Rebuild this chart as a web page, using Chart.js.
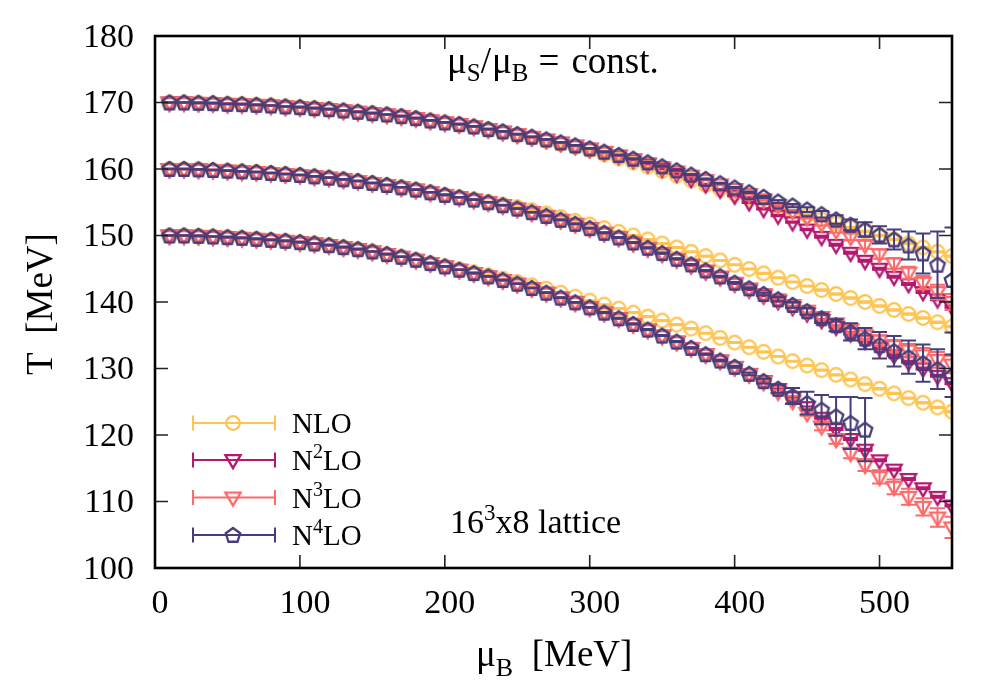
<!DOCTYPE html>
<html><head><meta charset="utf-8">
<script src="https://cdn.jsdelivr.net/npm/chart.js@4.4.0/dist/chart.umd.min.js"></script>
<style>html,body{margin:0;padding:0;background:#fff;}canvas{display:block;}</style>
</head><body>
<canvas id="c" width="997" height="697"></canvas>
<script>
// ---------- data ----------
const muB = [10,20,30,40,50,60,70,80,90,100,110,120,130,140,150,160,170,180,190,200,210,220,230,240,250,260,270,280,290,300,310,320,330,340,350,360,370,380,390,400,410,420,430,440,450,460,470,480,490,500,510,520,530,540,550];

// T0 = 170 MeV family
const nloT170 = [170.0,170.0,169.95,169.9,169.8,169.75,169.65,169.55,169.4,169.3,169.15,169.0,168.8,168.6,168.4,168.2,167.95,167.65,167.3,167.0,166.7,166.35,165.95,165.55,165.1,164.65,164.2,163.75,163.3,162.8,162.2,161.6,161.0,160.35,159.7,159.0,158.3,157.6,156.9,156.25,155.6,154.95,154.3,153.65,153.0,152.4,151.8,151.2,150.6,150.0,149.4,148.8,148.2,147.55,146.9];
const n2loT170 = [170.0,170.0,169.95,169.9,169.8,169.75,169.65,169.55,169.4,169.3,169.15,169.0,168.8,168.6,168.4,168.2,167.95,167.65,167.3,167.0,166.75,166.4,166.0,165.6,165.2,164.8,164.4,163.95,163.5,163.05,162.55,162.0,161.4,160.75,160.05,159.3,158.5,157.7,156.9,156.0,155.0,154.0,153.0,152.0,150.9,149.8,148.6,147.4,146.2,145.0,143.8,142.7,141.5,140.4,139.3];
const n3loT170 = [170.0,170.0,169.95,169.9,169.8,169.75,169.65,169.55,169.4,169.3,169.15,169.0,168.8,168.6,168.4,168.2,167.95,167.65,167.3,167.0,166.75,166.4,166.0,165.65,165.25,164.85,164.45,164.0,163.55,163.1,162.6,162.05,161.5,160.9,160.3,159.65,159.0,158.35,157.7,157.0,156.25,155.45,154.6,153.7,152.75,151.8,150.8,149.8,148.6,147.2,145.8,144.4,142.9,141.5,140.0];
const n4loT170 = [170.0,170.0,169.95,169.9,169.8,169.75,169.65,169.55,169.4,169.3,169.15,169.0,168.8,168.6,168.4,168.2,167.95,167.65,167.3,167.0,166.75,166.4,166.0,165.65,165.25,164.85,164.45,164.0,163.55,163.1,162.6,162.1,161.55,161.0,160.4,159.8,159.15,158.5,157.85,157.2,156.5,155.8,155.1,154.5,153.9,153.2,152.4,151.6,150.9,150.1,149.4,148.5,147.3,145.6,143.3];

// T0 = 160 MeV family
const nloT160 = [160.0,160.0,159.95,159.85,159.75,159.65,159.55,159.4,159.25,159.1,158.9,158.7,158.45,158.2,157.9,157.6,157.25,156.9,156.5,156.1,155.75,155.4,155.05,154.65,154.25,153.8,153.3,152.75,152.2,151.65,151.1,150.55,150.0,149.4,148.8,148.2,147.55,146.9,146.25,145.6,144.95,144.3,143.65,143.0,142.4,141.8,141.2,140.6,140.0,139.4,138.8,138.2,137.6,136.95,136.3];
const n2loT160 = [160.0,160.0,159.95,159.85,159.75,159.65,159.55,159.4,159.25,159.1,158.9,158.7,158.45,158.2,157.9,157.6,157.25,156.9,156.5,156.1,155.75,155.4,155.0,154.55,154.05,153.5,152.95,152.35,151.75,151.1,150.4,149.7,148.9,148.1,147.3,146.45,145.55,144.65,143.75,142.8,141.9,141.0,140.15,139.25,138.3,137.3,136.3,135.3,134.2,133.1,132.0,131.0,130.0,128.9,127.8];
const n3loT160 = [160.0,160.0,159.95,159.85,159.75,159.65,159.55,159.4,159.25,159.1,158.9,158.7,158.45,158.2,157.9,157.6,157.25,156.9,156.5,156.1,155.75,155.4,155.0,154.55,154.05,153.5,152.95,152.35,151.75,151.1,150.4,149.7,148.95,148.15,147.35,146.5,145.65,144.75,143.85,142.9,142.05,141.2,140.4,139.55,138.7,137.75,136.8,135.9,135.0,134.2,133.4,132.7,132.0,131.3,130.6];
const n4loT160 = [160.0,160.0,159.95,159.85,159.75,159.65,159.55,159.4,159.25,159.1,158.9,158.7,158.45,158.2,157.9,157.6,157.25,156.9,156.5,156.1,155.75,155.4,155.0,154.55,154.05,153.5,152.95,152.35,151.75,151.1,150.4,149.7,148.95,148.15,147.35,146.5,145.65,144.75,143.85,142.9,142.05,141.2,140.4,139.55,138.6,137.55,136.5,135.5,134.5,133.5,132.6,131.7,130.8,129.9,128.9];

// T0 = 150 MeV family
const nloT150 = [150.0,150.0,149.95,149.85,149.75,149.65,149.5,149.35,149.2,149.0,148.8,148.55,148.25,147.95,147.6,147.2,146.8,146.35,145.85,145.35,144.9,144.45,144.0,143.5,143.0,142.5,142.0,141.4,140.8,140.2,139.6,139.0,138.4,137.8,137.2,136.6,136.0,135.3,134.6,133.9,133.2,132.5,131.8,131.1,130.45,129.75,129.05,128.35,127.65,126.95,126.25,125.55,124.85,124.15,123.5];
const n2loT150 = [150.0,150.0,149.95,149.85,149.75,149.65,149.5,149.35,149.2,149.0,148.8,148.55,148.25,147.95,147.6,147.2,146.8,146.35,145.85,145.35,144.85,144.35,143.85,143.3,142.75,142.1,141.4,140.65,139.95,139.2,138.4,137.55,136.7,135.85,134.95,134.05,133.1,132.15,131.2,130.25,129.2,128.1,126.9,125.7,124.2,122.6,120.9,119.4,117.8,116.2,114.8,113.4,112.0,110.7,109.4];
const n3loT150 = [150.0,150.0,149.95,149.85,149.75,149.65,149.5,149.35,149.2,149.0,148.8,148.55,148.25,147.95,147.6,147.2,146.8,146.35,145.85,145.35,144.85,144.35,143.85,143.3,142.75,142.1,141.4,140.65,139.95,139.2,138.4,137.55,136.7,135.85,134.95,134.05,133.1,132.15,131.2,130.2,129.15,128.0,126.5,125.1,123.3,121.3,119.4,117.3,115.5,113.7,112.2,110.7,109.2,107.6,106.1];
const n4loT150 = [150.0,150.0,149.95,149.85,149.75,149.65,149.5,149.35,149.2,149.0,148.8,148.55,148.25,147.95,147.6,147.2,146.8,146.35,145.85,145.35,144.85,144.35,143.85,143.3,142.75,142.1,141.4,140.65,139.95,139.2,138.4,137.55,136.7,135.85,134.95,134.05,133.1,132.15,131.2,130.25,129.2,128.1,126.95,125.85,124.8,123.8,122.8,121.8,120.8];

// error bars (MeV)
const nloErr = [0.05,0.05,0.05,0.05,0.05,0.05,0.05,0.05,0.05,0.05,0.05,0.05,0.05,0.05,0.05,0.05,0.05,0.05,0.05,0.05,0.05,0.05,0.05,0.05,0.05,0.05,0.05,0.05,0.05,0.05,0.08,0.08,0.08,0.08,0.08,0.08,0.08,0.08,0.08,0.08,0.08,0.08,0.08,0.08,0.08,0.1,0.1,0.1,0.1,0.1,0.1,0.1,0.1,0.1,0.1];
const n2loErr = [0.05,0.05,0.05,0.05,0.05,0.05,0.05,0.05,0.05,0.05,0.05,0.05,0.05,0.05,0.05,0.05,0.05,0.05,0.05,0.05,0.05,0.05,0.05,0.05,0.05,0.05,0.05,0.05,0.05,0.05,0.05,0.05,0.05,0.05,0.05,0.1,0.1,0.1,0.1,0.1,0.1,0.1,0.1,0.1,0.1,0.15,0.15,0.15,0.15,0.15,0.15,0.15,0.15,0.15,0.15];
const n3loErr170 = [0.05,0.05,0.05,0.05,0.05,0.05,0.05,0.05,0.05,0.05,0.05,0.05,0.05,0.05,0.05,0.05,0.05,0.05,0.05,0.05,0.05,0.05,0.05,0.05,0.05,0.05,0.05,0.05,0.05,0.05,0.05,0.05,0.05,0.05,0.05,0.05,0.05,0.05,0.05,0.05,0.1,0.1,0.15,0.15,0.2,0.3,0.4,0.5,0.6,0.7,0.8,0.9,1.0,1.1,1.2];
const n3loErr160 = [0.05,0.05,0.05,0.05,0.05,0.05,0.05,0.05,0.05,0.05,0.05,0.05,0.05,0.05,0.05,0.05,0.05,0.05,0.05,0.05,0.05,0.05,0.05,0.05,0.05,0.05,0.05,0.05,0.05,0.05,0.05,0.05,0.05,0.05,0.05,0.05,0.05,0.05,0.05,0.05,0.1,0.15,0.2,0.25,0.3,0.4,0.5,0.6,0.7,0.8,0.9,1.0,1.1,1.2,1.3];
const n3loErr150 = [0.05,0.05,0.05,0.05,0.05,0.05,0.05,0.05,0.05,0.05,0.05,0.05,0.05,0.05,0.05,0.05,0.05,0.05,0.05,0.05,0.05,0.05,0.05,0.05,0.05,0.05,0.05,0.05,0.05,0.05,0.05,0.05,0.05,0.05,0.05,0.05,0.05,0.05,0.1,0.1,0.15,0.2,0.25,0.3,0.4,0.6,0.7,0.8,0.9,1.0,1.1,1.2,1.3,1.4,1.6];
const n4loErr170 = [0.05,0.05,0.05,0.05,0.05,0.05,0.05,0.05,0.05,0.05,0.05,0.05,0.05,0.05,0.05,0.05,0.05,0.05,0.05,0.05,0.05,0.05,0.05,0.05,0.05,0.05,0.05,0.05,0.05,0.05,0.08,0.08,0.08,0.08,0.08,0.08,0.08,0.08,0.08,0.08,0.1,0.15,0.2,0.25,0.35,0.5,0.65,0.8,1.1,1.3,1.5,2.1,3.0,5.0,7.9];
const n4loErr160 = [0.05,0.05,0.05,0.05,0.05,0.05,0.05,0.05,0.05,0.05,0.05,0.05,0.05,0.05,0.05,0.05,0.05,0.05,0.05,0.05,0.05,0.05,0.05,0.05,0.05,0.05,0.05,0.05,0.05,0.05,0.08,0.08,0.08,0.08,0.08,0.08,0.08,0.08,0.1,0.12,0.15,0.2,0.3,0.4,0.5,0.7,0.9,1.3,1.6,2.0,2.3,2.5,2.8,3.0,3.2];
const n4loErr150 = [0.05,0.05,0.05,0.05,0.05,0.05,0.05,0.05,0.05,0.05,0.05,0.05,0.05,0.05,0.05,0.05,0.05,0.05,0.05,0.05,0.05,0.05,0.05,0.05,0.05,0.05,0.05,0.05,0.05,0.05,0.08,0.08,0.08,0.08,0.08,0.08,0.08,0.08,0.1,0.15,0.2,0.35,0.6,1.2,1.7,2.2,2.9,3.9,4.75];

const seriesLabels = ['NLO', 'N2LO', 'N3LO', 'N4LO'];
const xTicks = [0, 100, 200, 300, 400, 500];
const yTicks = [100, 110, 120, 130, 140, 150, 160, 170, 180];

// ---------- styling ----------
const COLORS = ['#fdc452', '#b3196f', '#fb6a6a', '#473d7a'];
const SERIF = '"Liberation Serif", "Times New Roman", serif';

function marker(kind, color) {
  const s = 24, c = document.createElement('canvas');
  c.width = s; c.height = s;
  const g = c.getContext('2d');
  g.strokeStyle = color; g.lineWidth = 2.3; g.lineJoin = 'miter';
  const cx = s / 2, cy = s / 2;
  g.beginPath();
  if (kind === 'circle') {
    g.arc(cx, cy, 6.8, 0, Math.PI * 2);
  } else if (kind === 'tri') {
    g.moveTo(cx - 7.6, cy - 4.8); g.lineTo(cx + 7.6, cy - 4.8); g.lineTo(cx, cy + 8.2); g.closePath();
  } else {
    const r = 7.6;
    for (let k = 0; k < 5; k++) {
      const a = -Math.PI / 2 + k * 2 * Math.PI / 5;
      const px = cx + r * Math.cos(a), py = cy + 0.6 + r * Math.sin(a);
      k ? g.lineTo(px, py) : g.moveTo(px, py);
    }
    g.closePath();
  }
  g.stroke();
  return c;
}
const MARKERS = [marker('circle', COLORS[0]), marker('tri', COLORS[1]), marker('tri', COLORS[2]), marker('pent', COLORS[3])];

function pts(T, E) { return T.map((v, i) => ({ x: muB[i], y: v, e: E[i] })); }

const families = [
  [pts(nloT170, nloErr), pts(nloT160, nloErr), pts(nloT150, nloErr)],
  [pts(n2loT170, n2loErr), pts(n2loT160, n2loErr), pts(n2loT150, n2loErr)],
  [pts(n3loT170, n3loErr170), pts(n3loT160, n3loErr160), pts(n3loT150, n3loErr150)],
  [pts(n4loT170, n4loErr170), pts(n4loT160, n4loErr160), pts(n4loT150, n4loErr150)]
];

const datasets = seriesLabels.map((lab, i) => ({
  label: lab,
  data: [].concat(...families[i]),
  showLine: false,
  pointStyle: MARKERS[i],
  pointRadius: 8,
  pointHoverRadius: 8,
  borderColor: COLORS[i],
  backgroundColor: 'rgba(0,0,0,0)',
  order: 4 - i
}));

// rich text helper: parts = [text, fontSize, dy, extraGapAfter]
function rich(ctx, x, y, parts) {
  for (const [t, size, dy, gap] of parts) {
    ctx.font = size + 'px ' + SERIF;
    ctx.fillText(t, x, y + dy);
    x += ctx.measureText(t).width + (gap || 0);
  }
  return x;
}
function richWidth(ctx, parts) {
  let w = 0;
  for (const [t, size, dy, gap] of parts) { ctx.font = size + 'px ' + SERIF; w += ctx.measureText(t).width + (gap || 0); }
  return w;
}

const errPlugin = {
  id: 'errbars',
  beforeDatasetDraw(chart, args) {
    const ds = chart.data.datasets[args.index];
    const { ctx, chartArea: a } = chart;
    const xs = chart.scales.x, ys = chart.scales.y;
    ctx.save();
    ctx.beginPath(); ctx.rect(a.left, a.top, a.right - a.left, a.bottom - a.top); ctx.clip();
    ctx.strokeStyle = ds.borderColor; ctx.lineWidth = 2;
    ctx.beginPath();
    for (const p of ds.data) {
      const px = xs.getPixelForValue(p.x);
      const y1 = ys.getPixelForValue(p.y - p.e), y2 = ys.getPixelForValue(p.y + p.e);
      ctx.moveTo(px, y1); ctx.lineTo(px, y2);
      ctx.moveTo(px - 7.5, y1); ctx.lineTo(px + 7.5, y1);
      ctx.moveTo(px - 7.5, y2); ctx.lineTo(px + 7.5, y2);
    }
    ctx.stroke();
    ctx.restore();
  }
};

const decoPlugin = {
  id: 'deco',
  afterDraw(chart) {
    const { ctx, chartArea: a } = chart;
    const xs = chart.scales.x, ys = chart.scales.y;
    ctx.save();
    // inward ticks on all four sides
    ctx.strokeStyle = '#222'; ctx.lineWidth = 1.6;
    ctx.beginPath();
    for (const v of xTicks) {
      const px = xs.getPixelForValue(v);
      ctx.moveTo(px, a.bottom); ctx.lineTo(px, a.bottom - 13);
      ctx.moveTo(px, a.top); ctx.lineTo(px, a.top + 13);
    }
    for (const v of yTicks) {
      const py = ys.getPixelForValue(v);
      ctx.moveTo(a.left, py); ctx.lineTo(a.left + 13, py);
      ctx.moveTo(a.right, py); ctx.lineTo(a.right - 13, py);
    }
    ctx.stroke();
    // frame
    ctx.strokeStyle = '#000'; ctx.lineWidth = 2.6;
    ctx.strokeRect(a.left, a.top, a.right - a.left, a.bottom - a.top);

    ctx.fillStyle = '#000'; ctx.textBaseline = 'alphabetic'; ctx.textAlign = 'left';
    // top annotation
    rich(ctx, 447, 73, [['μ', 37, 0], ['S', 25, 8], ['/', 37, 0, 1], ['μ', 37, 0], ['B', 25, 8, 10], ['=', 37, 0, 12], ['const.', 37, 0]]);
    // lattice annotation
    rich(ctx, 450, 533, [['16', 34, 0], ['3', 23, -13], ['x8 lattice', 34, 0]]);
    // x-axis title
    rich(ctx, 476, 666, [['μ', 37, 0], ['B', 26, 10], ['  [MeV]', 37, 0]]);
    // y-axis title
    ctx.save();
    ctx.translate(52, 304); ctx.rotate(-Math.PI / 2);
    const yt = [['T  [MeV]', 37, 0]];
    rich(ctx, -richWidth(ctx, yt) / 2, 0, yt);
    ctx.restore();

    // legend
    const rows = [423, 460, 497.5, 535];
    const labels = [
      [['NLO', 29, 0]],
      [['N', 29, 0], ['2', 20, -12], ['LO', 29, 0]],
      [['N', 29, 0], ['3', 20, -12], ['LO', 29, 0]],
      [['N', 29, 0], ['4', 20, -12], ['LO', 29, 0]]
    ];
    rows.forEach((ry, i) => {
      ctx.strokeStyle = COLORS[i]; ctx.lineWidth = 2;
      ctx.beginPath();
      ctx.moveTo(193, ry); ctx.lineTo(275, ry);
      ctx.moveTo(193, ry - 7.5); ctx.lineTo(193, ry + 7.5);
      ctx.moveTo(275, ry - 7.5); ctx.lineTo(275, ry + 7.5);
      ctx.stroke();
      const m = MARKERS[i];
      ctx.drawImage(m, 233 - m.width / 2, ry - m.height / 2);
      ctx.fillStyle = '#000';
      rich(ctx, 292, ry + 10, labels[i]);
    });
    ctx.restore();
  }
};

new Chart(document.getElementById('c'), {
  type: 'scatter',
  data: { datasets },
  options: {
    responsive: false,
    animation: false,
    events: [],
    layout: { padding: { top: 36, right: 45, left: 0, bottom: 0 } },
    plugins: { legend: { display: false }, tooltip: { enabled: false } },
    scales: {
      x: {
        type: 'linear', min: 0, max: 550,
        afterBuildTicks(s) { s.ticks = xTicks.map(v => ({ value: v })); },
        ticks: { font: { family: SERIF, size: 34 }, color: '#000', padding: 16, labelOffset: 5, maxRotation: 0, autoSkip: false },
        grid: { display: false, drawTicks: false },
        border: { display: false },
        afterFit(s) { s.height = 129; s.paddingLeft = 0; s.paddingRight = 0; }
      },
      y: {
        type: 'linear', min: 100, max: 180,
        afterBuildTicks(s) { s.ticks = yTicks.map(v => ({ value: v })); },
        ticks: { font: { family: SERIF, size: 34 }, color: '#000', padding: 21, labelOffset: 2, autoSkip: false },
        grid: { display: false, drawTicks: false },
        border: { display: false },
        afterFit(s) { s.width = 155; s.paddingTop = 0; s.paddingBottom = 0; }
      }
    }
  },
  plugins: [errPlugin, decoPlugin]
});
</script>
</body></html>
